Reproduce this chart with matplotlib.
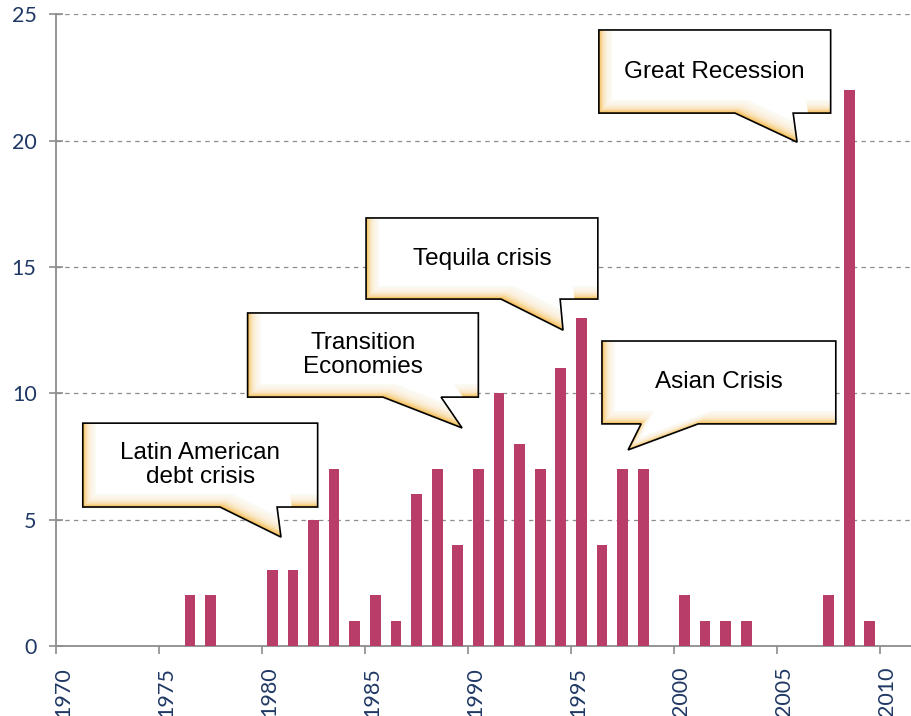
"""Number of crisis episodes per year with annotated crisis waves."""
import numpy as np
import matplotlib
matplotlib.use("Agg")
import matplotlib.pyplot as plt
from matplotlib.patches import Polygon
from matplotlib.transforms import Affine2D, ScaledTranslation

# data: counts per year (years with no bar are zero)
years = [1976, 1977, 1980, 1981, 1982, 1983, 1984, 1985, 1986, 1987, 1988,
         1989, 1990, 1991, 1992, 1993, 1994, 1995, 1996, 1997, 1998, 2000,
         2001, 2002, 2003, 2007, 2008, 2009]
counts = [2, 2, 3, 3, 5, 7, 1, 2, 1, 6, 7,
          4, 7, 10, 8, 7, 11, 13, 4, 7, 7, 2,
          1, 1, 1, 2, 22, 1]

x_ticks = [1970, 1975, 1980, 1985, 1990, 1995, 2000, 2005, 2010]
y_ticks = [0, 5, 10, 15, 20, 25]

# callouts: label, box (x0, x1, y_bottom, y_top), tail (left base x, right base x, tip x, tip y)
callout_labels = ["Latin American\ndebt crisis", "Transition\nEconomies",
                  "Tequila crisis", "Asian Crisis", "Great Recession"]
callout_boxes = [(1971.3, 1982.7, 5.50, 8.82),
                 (1979.3, 1990.5, 9.85, 13.18),
                 (1985.05, 1996.3, 13.73, 16.94),
                 (1996.5, 2007.85, 8.79, 12.07),
                 (1996.35, 2007.6, 21.09, 24.38)]
callout_tails = [(1977.96, 1980.73, 1980.92, 4.31),
                 (1985.87, 1988.69, 1989.71, 8.63),
                 (1991.60, 1994.47, 1994.61, 12.50),
                 (1998.40, 2001.17, 1997.77, 7.76),
                 (2002.96, 2005.78, 2005.97, 19.94)]

BAR_COLOR = "#B83D68"
AXIS_COLOR = "#8C8C8C"
LABEL_COLOR = "#1F3864"
GLOW_COLOR = "#F4BA4C"


def draw_callout(ax, label, box, tail):
    x0, x1, yb, yt = box
    tl, tr, tx, ty = tail
    verts = [(x0, yt), (x1, yt), (x1, yb), (tr, yb), (tx, ty), (tl, yb), (x0, yb)]

    base = Polygon(verts, closed=True, facecolor=GLOW_COLOR, edgecolor="none",
                   zorder=5)
    ax.add_patch(base)
    # fake the soft inner shadow on the lower-left edges with shifted white copies
    n = 13
    for k in range(1, n + 1):
        shift = Affine2D().translate(k * 1.0, k * 1.0)
        cover = Polygon(verts, closed=True, facecolor="white", edgecolor="none",
                        alpha=0.22 if k < n else 1.0, zorder=5,
                        transform=ax.transData + shift)
        ax.add_patch(cover)
        cover.set_clip_path(base)
    outline = Polygon(verts, closed=True, facecolor="none", edgecolor="black",
                      lw=1.2, zorder=6)
    ax.add_patch(outline)

    ax.text((x0 + x1) / 2, (yb + yt) / 2, label, ha="center", va="center",
            fontsize=17.5, family="Liberation Sans", color="black",
            linespacing=1.15, zorder=7)


fig = plt.figure(figsize=(9.11, 7.16), dpi=100)
ax = fig.add_axes([56 / 911, 70 / 716, 855 / 911, 631.7 / 716])

ax.bar(np.array(years) + 0.5, counts, width=0.52, color=BAR_COLOR, zorder=3)

ax.set_xlim(1970, 2011.5)
ax.set_ylim(0, 25)
ax.set_xticks(x_ticks)
ax.set_xticklabels([str(y) for y in x_ticks], rotation=90)
ax.set_yticks(y_ticks)

for y in y_ticks[1:]:
    ax.axhline(y, color=AXIS_COLOR, lw=0.9, ls=(0, (3.5, 3.5)), zorder=1)

for side in ("top", "right"):
    ax.spines[side].set_visible(False)
for side in ("left", "bottom"):
    ax.spines[side].set_color(AXIS_COLOR)
    ax.spines[side].set_linewidth(1.3)

ax.tick_params(axis="y", direction="inout", length=10, width=1.2,
               color=AXIS_COLOR, labelcolor=LABEL_COLOR, labelsize=15.5, pad=9)
ax.tick_params(axis="x", direction="out", length=6, width=1.2,
               color=AXIS_COLOR, labelcolor=LABEL_COLOR, labelsize=15.5, pad=9)
for lab in ax.get_xticklabels() + ax.get_yticklabels():
    lab.set_family("Lato")
# rotated year labels sit a little to the right of their ticks
nudge = ScaledTranslation(7 / 100, 0, fig.dpi_scale_trans)
for lab in ax.get_xticklabels():
    lab.set_transform(lab.get_transform() + nudge)

for label, box, tail in zip(callout_labels, callout_boxes, callout_tails):
    draw_callout(ax, label, box, tail)

fig.savefig("out.png", dpi=100)
